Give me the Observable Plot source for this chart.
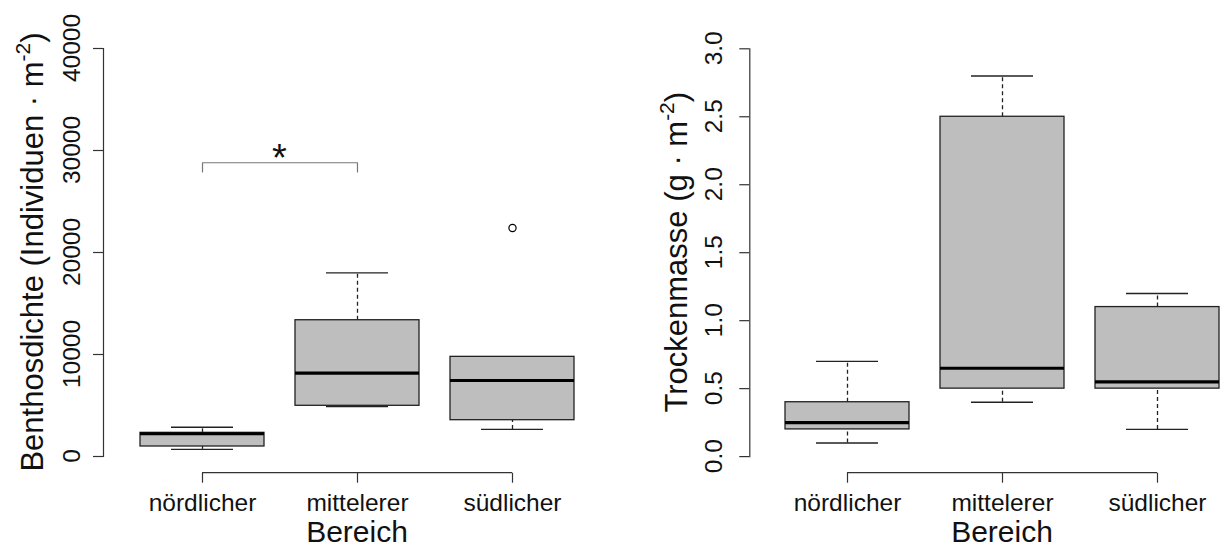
<!DOCTYPE html>
<html><head><meta charset="utf-8">
<script src="https://cdn.jsdelivr.net/npm/d3@7"></script>
<script src="https://cdn.jsdelivr.net/npm/@observablehq/plot@0.6"></script>
<style>
  body { margin: 0; background: #fff; }
  #wrap { position: relative; width: 1223px; height: 546px; font-family: "Liberation Sans", Arimo, Helvetica, Arial, sans-serif; }
  #wrap > svg { position: absolute; top: 0; overflow: visible; }
</style></head>
<body><div id="wrap"></div>
<script>
// Sampling areas (Bereich)
const categories = ["nördlicher", "mittelerer", "südlicher"];

// Benthic density, individuals per m²: whisker ends, quartiles and median per area
const benthosLow    = [700, 4900, 2650];
const benthosQ1     = [980, 4970, 3560];
const benthosMedian = [2230, 8170, 7450];
const benthosQ3     = [2320, 13360, 9770];
const benthosHigh   = [2870, 18000, 9770];
const benthosOutlierArea  = ["südlicher"];
const benthosOutlierValue = [22400];
const benthosTicks  = [0, 10000, 20000, 30000, 40000];

// Dry mass, g per m²
const massLow    = [0.1, 0.4, 0.2];
const massQ1     = [0.2, 0.5, 0.5];
const massMedian = [0.25, 0.65, 0.55];
const massQ3     = [0.4, 2.5, 1.1];
const massHigh   = [0.7, 2.8, 1.2];
const massTicks  = [0, 0.5, 1.0, 1.5, 2.0, 2.5, 3.0];

// Significant pairwise difference in benthic density: bracket ends, bar level, star level
const sigPair  = ["nördlicher", "mittelerer"];
const sigLevel = [27900, 28800];
const sigStarLevel = 30050;
const sigLabel = "*";

const FONT = '"Liberation Sans", Arimo, Helvetica, Arial, sans-serif';
const INK = "#222";
const AXIS = "#333";

function rows(low, q1, med, q3, high) {
  return categories.map((c, i) => ({bereich: c, low: low[i], q1: q1[i], median: med[i], q3: q3[i], high: high[i]}));
}

function boxPanel({stats, outliers = [], extra = [], yDomain, ticks, format, width, left,
                   marginLeft, insetLeft, marginRight, marginTop, marginBottom, insetBottom,
                   yTitle, yTitleX, tickLabelX, after}) {
  const height = 546;
  const plot = Plot.plot({
    width, height, marginLeft, marginRight, marginTop, marginBottom,
    insetLeft, insetBottom,
    style: {fontFamily: FONT, fontSize: "24.5px", color: "#111", background: "transparent"},
    x: {type: "band", domain: categories, paddingInner: 0.2, paddingOuter: 0, label: null},
    y: {domain: yDomain, label: null},
    marks: [
      // whiskers
      Plot.ruleX(stats, {x: "bereich", y1: "q3", y2: "high", stroke: INK, strokeWidth: 1.3, strokeDasharray: "4,3"}),
      Plot.ruleX(stats, {x: "bereich", y1: "low", y2: "q1", stroke: INK, strokeWidth: 1.3, strokeDasharray: "4,3"}),
      Plot.tickY(stats, {x: "bereich", y: "high", stroke: INK, strokeWidth: 1.3, insetLeft: 31, insetRight: 31}),
      Plot.tickY(stats, {x: "bereich", y: "low", stroke: INK, strokeWidth: 1.3, insetLeft: 31, insetRight: 31}),
      // boxes and medians
      Plot.barY(stats, {x: "bereich", y1: "q1", y2: "q3", fill: "#bebebe", stroke: INK, strokeWidth: 1.3}),
      Plot.tickY(stats, {x: "bereich", y: "median", stroke: "#000", strokeWidth: 3.2}),
      Plot.dot(outliers, {x: "bereich", y: "value", r: 3.6, stroke: "#000", strokeWidth: 1.2, fill: "none"}),
      ...extra,
      // y axis: spine over the tick range and outward ticks (labels added below)
      Plot.frame({anchor: "left", insetBottom, stroke: AXIS, strokeWidth: 1.2}),
      Plot.axisY({ticks, tickSize: 10, stroke: AXIS, strokeWidth: 1.2, fill: "none", tickFormat: () => "", label: null}),
      Plot.axisX({tickSize: 10, tickPadding: 10, stroke: AXIS, strokeWidth: 1.2, label: null, fontSize: 24.5})
    ]
  });
  plot.style.left = left + "px";

  const svg = d3.select(plot);
  const xs = plot.scale("x");
  const ys = plot.scale("y");
  const cx = c => xs.apply(c) + xs.bandwidth / 2;
  const axisY = height - marginBottom;

  // y tick labels, written parallel to the axis
  svg.append("g")
    .attr("font-size", 24.5).attr("fill", "#111").attr("text-anchor", "middle")
    .selectAll("text").data(ticks).join("text")
    .attr("transform", d => `translate(${tickLabelX},${ys.apply(d)}) rotate(-90)`)
    .text(format);

  // x axis spine from first to last category
  svg.append("line")
    .attr("x1", cx(categories[0])).attr("x2", cx(categories[categories.length - 1]))
    .attr("y1", axisY).attr("y2", axisY)
    .attr("stroke", AXIS).attr("stroke-width", 1.2);

  // x axis title
  svg.append("text")
    .attr("x", cx(categories[1])).attr("y", 542)
    .attr("text-anchor", "middle").attr("font-size", 30).attr("fill", "#111")
    .text("Bereich");

  // y axis title with superscript exponent
  const midY = (ys.apply(yDomain[0]) + ys.apply(yDomain[1])) / 2;
  const t = svg.append("text")
    .attr("transform", `translate(${yTitleX},${midY}) rotate(-90)`)
    .attr("text-anchor", "middle").attr("font-size", 31).attr("fill", "#111");
  t.append("tspan").text(yTitle + " · m");
  t.append("tspan").attr("font-size", 21).attr("dy", -13).text("-2");
  t.append("tspan").attr("dy", 13).text(")");

  if (after) after(svg, cx, ys);
  return plot;
}

const wrap = document.getElementById("wrap");

const benthosStats = rows(benthosLow, benthosQ1, benthosMedian, benthosQ3, benthosHigh);
const benthosOut = benthosOutlierArea.map((c, i) => ({bereich: c, value: benthosOutlierValue[i]}));
const bracket = [
  {bereich: sigPair[0], y: sigLevel[0]}, {bereich: sigPair[0], y: sigLevel[1]},
  {bereich: sigPair[1], y: sigLevel[1]}, {bereich: sigPair[1], y: sigLevel[0]}
];

wrap.appendChild(boxPanel({
  stats: benthosStats, outliers: benthosOut,
  extra: [Plot.line(bracket, {x: "bereich", y: "y", stroke: "#777", strokeWidth: 1.2})],
  yDomain: [0, 40000], ticks: benthosTicks, format: d => String(d),
  width: 612, left: 0, marginLeft: 103, insetLeft: 35.7, marginRight: 37.5,
  marginTop: 48, marginBottom: 73.3, insetBottom: 16.7,
  yTitle: "Benthosdichte (Individuen", yTitleX: 43, tickLabelX: 80,
  after: (svg, cx, ys) => {
    // significance star centred between the two compared areas
    svg.append("text")
      .attr("x", (cx(sigPair[0]) + cx(sigPair[1])) / 2)
      .attr("y", ys.apply(sigStarLevel))
      .attr("dy", "0.56em")
      .attr("text-anchor", "middle").attr("font-size", 38).attr("fill", "#111")
      .text(sigLabel);
  }
}));

wrap.appendChild(boxPanel({
  stats: rows(massLow, massQ1, massMedian, massQ3, massHigh),
  yDomain: [0, 3], ticks: massTicks, format: d3.format(".1f"),
  width: 611, left: 612, marginLeft: 137.3, insetLeft: 34.4, marginRight: 3.5,
  marginTop: 48.3, marginBottom: 73.3, insetBottom: 16.6,
  yTitle: "Trockenmasse (g", yTitleX: 74.7, tickLabelX: 110
}));
</script>
</body></html>
